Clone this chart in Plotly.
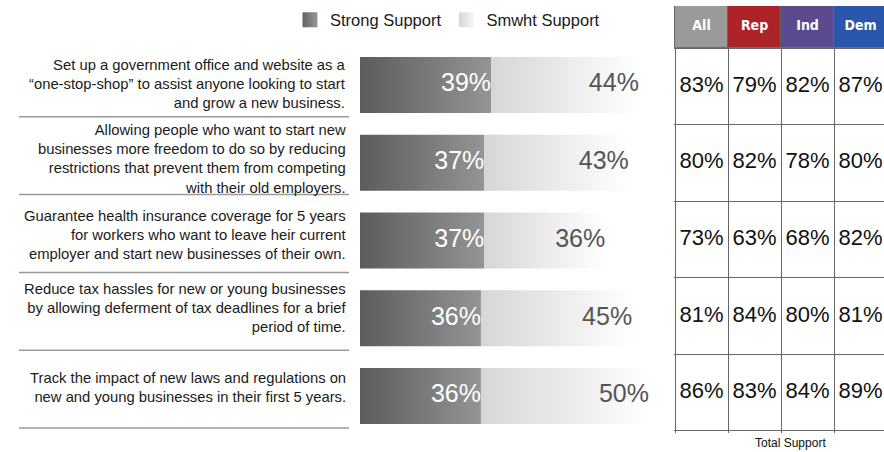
import plotly.graph_objects as go

# ---------------- data ----------------
labels = [
    "Set up a government office and website as a<br>\u201cone-stop-shop\u201d to assist anyone looking to start<br>and grow a new business.",
    "Allowing people who want to start new<br>businesses more freedom to do so by reducing<br>restrictions that prevent them from competing<br>with their old employers.",
    "Guarantee health insurance coverage for 5 years<br>for workers who want to leave heir current<br>employer and start new businesses of their own.",
    "Reduce tax hassles for new or young businesses<br>by allowing deferment of tax deadlines for a brief<br>period of time.",
    "Track the impact of new laws and regulations on<br>new and young businesses in their first 5 years.",
]
strong = [39, 37, 37, 36, 36]
smwht = [44, 43, 36, 45, 50]

groups = ["All", "Rep", "Ind", "Dem"]
total_all = [83, 80, 73, 81, 86]
total_rep = [79, 82, 63, 84, 83]
total_ind = [82, 78, 68, 80, 84]
total_dem = [87, 80, 82, 81, 89]

# ---------------- styles ----------------
W, H = 884, 452
FONT = "Liberation Sans, Arial, sans-serif"
header_colors = ["#9a9a9a", "#ad2327", "#5c4a8f", "#2a57ad"]
strong_scale = [[0, "#5c5c5c"], [1, "#949494"]]
smwht_scale = [[0, "#d6d6d6"], [1, "#ffffff"]]
label_shift = [1, 4, 6, 10, 9]
bar_half = 0.36

def px_x(p):
    return p / W

def px_y(p):
    return (H - p) / H

fig = go.Figure()

# bars as gradient-filled shapes driven by data on the bar axes
n = len(strong)
for i in range(n):
    segs = [(0, strong[i], strong_scale), (strong[i], strong[i] + smwht[i], smwht_scale)]
    for x0, x1, cs in segs:
        fig.add_trace(go.Scatter(
            x=[x0, x1, x1, x0, x0],
            y=[i - bar_half, i - bar_half, i + bar_half, i + bar_half, i - bar_half],
            mode="none", fill="toself",
            fillgradient=dict(type="horizontal", colorscale=cs),
            showlegend=False, hoverinfo="skip",
            xaxis="x", yaxis="y",
        ))

# value labels on bars
fig.add_trace(go.Scatter(
    x=strong, y=list(range(n)), mode="text",
    text=[f"{v}%" for v in strong], textposition="middle left",
    textfont=dict(family=FONT, size=25, color="#ffffff"),
    showlegend=False, hoverinfo="skip", xaxis="x", yaxis="y",
))
fig.add_trace(go.Scatter(
    x=[a + b for a, b in zip(strong, smwht)], y=list(range(n)), mode="text",
    text=[f"{v}%" for v in smwht], textposition="middle left",
    textfont=dict(family=FONT, size=25, color="#555555"),
    showlegend=False, hoverinfo="skip", xaxis="x", yaxis="y",
))

# legend entries
fig.add_trace(go.Scatter(
    x=[None], y=[None], mode="markers", name="Strong Support",
    marker=dict(symbol="square", size=15, color="#626262",
                gradient=dict(type="horizontal", color="#999999"), line=dict(width=0)),
    xaxis="x", yaxis="y",
))
fig.add_trace(go.Scatter(
    x=[None], y=[None], mode="markers", name="Smwht Support",
    marker=dict(symbol="square", size=15, color="#d6d6d6",
                gradient=dict(type="horizontal", color="#f6f6f6"), line=dict(width=0)),
    xaxis="x", yaxis="y",
))

# ---------------- table ----------------
fig.add_trace(go.Bar(
    x=list(range(len(groups))), y=[0.55] * len(groups), base=-1.05, width=1,
    marker=dict(color=header_colors, line=dict(color="#666666", width=1)),
    showlegend=False, hoverinfo="skip", xaxis="x2", yaxis="y2",
))
fig.add_trace(go.Scatter(
    x=list(range(len(groups))), y=[-0.775] * len(groups), mode="text",
    text=[f"<b>{g}</b>" for g in groups], textposition="middle center",
    textfont=dict(family="DejaVu Sans Condensed, Liberation Sans Narrow, Arial Narrow, sans-serif",
                  size=14, color="#ffffff"),
    showlegend=False, hoverinfo="skip", xaxis="x2", yaxis="y2",
))
cols = [total_all, total_rep, total_ind, total_dem]
tx, ty, tt = [], [], []
for c, vals in enumerate(cols):
    for r, v in enumerate(vals):
        tx.append(c)
        ty.append(r)
        tt.append(f"{v}%")
fig.add_trace(go.Scatter(
    x=tx, y=ty, mode="text", text=tt, textposition="middle center",
    textfont=dict(family=FONT, size=22, color="#111111"),
    showlegend=False, hoverinfo="skip", xaxis="x2", yaxis="y2",
))

# ---------------- labels & separators ----------------
annotations = []
for i, lab in enumerate(labels):
    annotations.append(dict(
        text=lab, xref="paper", x=px_x(348), yref="y", y=i, yshift=label_shift[i],
        xanchor="right", yanchor="middle", align="right", showarrow=False,
        font=dict(family=FONT, size=14.8, color="#1a1a1a"),
    ))
annotations.append(dict(
    text="Total Support", xref="paper", x=px_x(790), yref="paper", y=px_y(443),
    xanchor="center", yanchor="middle", showarrow=False,
    font=dict(family=FONT, size=12, color="#111111"),
))

shapes = []
for i in range(n):
    shapes.append(dict(
        type="line", xref="paper", x0=px_x(19), x1=px_x(349),
        yref="y", y0=i + 0.41, y1=i + 0.41,
        line=dict(color="#9a9a9a", width=1.5),
    ))

bar_px_per_unit = 3.36
col_px = 53
fig.update_layout(
    width=W, height=H, autosize=False,
    margin=dict(l=0, r=0, t=0, b=0),
    paper_bgcolor="white", plot_bgcolor="rgba(0,0,0,0)",
    showlegend=True,
    legend=dict(orientation="h", x=px_x(290), y=px_y(20), xanchor="left", yanchor="middle",
                font=dict(family=FONT, size=16.5, color="#1a1a1a"),
                bgcolor="rgba(0,0,0,0)", itemclick=False, itemdoubleclick=False),
    xaxis=dict(domain=[px_x(360), px_x(660)], range=[0, 300 / bar_px_per_unit],
               visible=False, fixedrange=True),
    yaxis=dict(domain=[px_y(435), px_y(46)], range=[4.5, -0.5],
               visible=False, fixedrange=True),
    xaxis2=dict(domain=[px_x(674), 1], range=[-0.52, -0.52 + 210 / col_px],
                anchor="y2", showgrid=True, gridcolor="#666666", gridwidth=1,
                tickvals=[-0.5, 0.5, 1.5, 2.5, 3.5], showticklabels=False,
                zeroline=False, ticks="", fixedrange=True),
    yaxis2=dict(domain=[px_y(432.5), px_y(5.9)], range=[4.52, -1.05],
                anchor="x2", showgrid=True, gridcolor="#666666", gridwidth=1,
                tickvals=[-0.5, 0.5, 1.5, 2.5, 3.5, 4.5], showticklabels=False,
                zeroline=False, ticks="", fixedrange=True),
    annotations=annotations,
    shapes=shapes,
    bargap=0,
)

fig.write_html("out.html", config=dict(displayModeBar=False),
               post_script="document.body.style.margin='0';")
